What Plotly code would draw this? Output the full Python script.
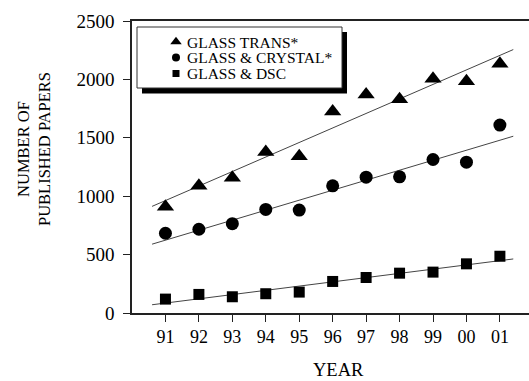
import numpy as np
import plotly.graph_objects as go

# Publication counts per year
years = [1991, 1992, 1993, 1994, 1995, 1996, 1997, 1998, 1999, 2000, 2001]
year_labels = ["91", "92", "93", "94", "95", "96", "97", "98", "99", "00", "01"]
glass_trans = [910, 1089, 1157, 1379, 1342, 1726, 1871, 1829, 2005, 1985, 2133]
glass_crystal = [683, 717, 765, 887, 881, 1089, 1163, 1166, 1314, 1291, 1609]
glass_dsc = [119, 159, 139, 165, 179, 270, 304, 341, 350, 421, 486]
series_names = ["GLASS TRANS*", "GLASS & CRYSTAL*", "GLASS & DSC"]
y_ticks = [0, 500, 1000, 1500, 2000, 2500]

W, H = 529, 381
ML, MR, MT, MB = 132, 0, 21, 68
PW, PH = W - ML - MR, H - MT - MB
FONT = "Liberation Serif, Times New Roman, serif"


def px(x):
    return (x - ML) / PW


def py(y):
    return (H - MB - y) / PH


series = [
    (glass_trans, "triangle-up", 15),
    (glass_crystal, "circle", 13),
    (glass_dsc, "square", 11),
]

fig = go.Figure()
fit_x = np.array([1990.6, 2001.4])
for (vals, sym, size), name in zip(series, series_names):
    slope, icpt = np.polyfit(years, vals, 1)
    fig.add_trace(go.Scatter(
        x=fit_x, y=slope * fit_x + icpt, mode="lines",
        line=dict(color="#444444", width=1), showlegend=False, hoverinfo="skip"))
    fig.add_trace(go.Scatter(
        x=years, y=vals, mode="markers", name=name,
        marker=dict(symbol=sym, size=size, color="black"), showlegend=False))

# Legend swatches on a pixel-space overlay axis
leg_rows = [41.7, 57.5, 73.5]
leg_sizes = [10, 8, 7]
for (vals, sym, size), yy, ls in zip(series, leg_rows, leg_sizes):
    fig.add_trace(go.Scatter(
        x=[176], y=[yy], mode="markers", xaxis="x2", yaxis="y2",
        marker=dict(symbol=sym, size=ls, color="black"),
        showlegend=False, hoverinfo="skip"))

shapes = [
    # legend shadow
    dict(type="rect", xref="paper", yref="paper",
         x0=px(142), x1=px(347), y0=py(32), y1=py(93.5),
         fillcolor="black", line=dict(width=0), layer="below"),
    # legend box
    dict(type="rect", xref="paper", yref="paper",
         x0=px(137), x1=px(342), y0=py(27), y1=py(88),
         fillcolor="white", line=dict(color="#333333", width=1), layer="below"),
]

annotations = []
for name, yy in zip(series_names, leg_rows):
    annotations.append(dict(
        text=name, xref="paper", yref="paper", x=px(185), y=py(yy + 0.5),
        xanchor="left", yanchor="middle", showarrow=False,
        font=dict(family=FONT, size=15.5, color="black")))
annotations.append(dict(
    text="NUMBER OF<br>PUBLISHED PAPERS", xref="paper", yref="paper",
    x=px(34), y=py(149), xanchor="center", yanchor="middle", textangle=-90,
    showarrow=False, font=dict(family=FONT, size=16.5, color="black")))
annotations.append(dict(
    text="YEAR", xref="paper", yref="paper", x=px(338), y=py(370),
    xanchor="center", yanchor="middle", showarrow=False,
    font=dict(family=FONT, size=18.5, color="black")))

fig.update_layout(
    width=W, height=H,
    margin=dict(l=ML, r=MR, t=MT, b=MB, pad=0),
    paper_bgcolor="white", plot_bgcolor="white",
    font=dict(family=FONT, size=18, color="black"),
    shapes=shapes, annotations=annotations,
    xaxis=dict(
        range=[1990.0, 2001.87], tickmode="array", tickvals=years, ticktext=year_labels,
        showgrid=False, zeroline=False, showline=True, linecolor="#222222", linewidth=1.5,
        mirror=True, ticks="outside", ticklen=7, tickwidth=1, tickcolor="#222222",
        tickfont=dict(family=FONT, size=18, color="black")),
    yaxis=dict(
        range=[0, 2500], tickmode="array", tickvals=y_ticks,
        showgrid=False, zeroline=False, showline=True, linecolor="#222222", linewidth=1.5,
        ticks="outside", ticklen=7, tickwidth=1, tickcolor="#222222",
        ticklabelstandoff=5,
        tickfont=dict(family=FONT, size=19, color="black")),
    xaxis2=dict(range=[ML, W], overlaying="x", visible=False, anchor="y2"),
    yaxis2=dict(range=[H - MB, MT], overlaying="y", visible=False, anchor="x2"),
)

fig.write_html("out.html")
